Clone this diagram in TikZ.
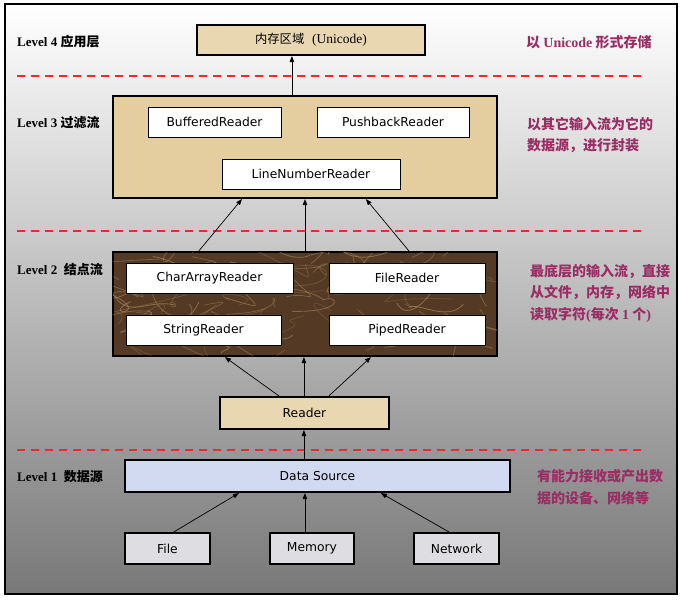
\documentclass[tikz,border=0pt]{standalone}
\usepackage{fontspec}
\setmainfont{Liberation Serif}
\newfontfamily\cjk{Noto Sans CJK SC}
\newfontfamily\uifont{DejaVu Sans}
\usetikzlibrary{arrows.meta,calc}
\definecolor{tan}{RGB}{233,215,178}
\definecolor{tandark}{RGB}{228,206,160}
\definecolor{brownm}{RGB}{84,58,36}
\definecolor{vein}{RGB}{170,135,95}
\definecolor{dsblue}{RGB}{210,218,242}
\definecolor{marblegray}{RGB}{222,222,226}
\definecolor{purp}{RGB}{153,45,100}
\definecolor{sepred}{RGB}{242,38,45}
\begin{document}
\begin{tikzpicture}[x=1pt,y=-1pt,
  outer/.style={draw=black, line width=2.2pt, inner sep=0pt},
  wbox/.style={draw=black, line width=0.8pt, fill=white, inner sep=0pt, minimum height=30pt, font=\uifont\fontsize{12.3}{14}\selectfont},
  tbox/.style={outer, font=\uifont\fontsize{12.3}{14}\selectfont},
  arr/.style={-{Triangle[length=6pt,width=4.5pt]}, line width=0.7pt},
  sepline/.style={draw=sepred, dash pattern=on 8pt off 6pt, line width=2.6pt},
  lvl/.style={anchor=west, inner sep=0pt, font=\bfseries\fontsize{13}{15}\selectfont},
  note/.style={anchor=west, inner sep=0pt, align=left, text=purp, font=\cjk\bfseries\fontsize{14}{21.5}\selectfont}]
\useasboundingbox (0,0) rectangle (682,601);
\fill[white] (0,0) rectangle (682,601);
\shade[top color=white, middle color={rgb,255:red,207;green,207;blue,207}, bottom color={rgb,255:red,120;green,120;blue,120}] (5,4) rectangle (677,594);
\draw[line width=2.2pt] (5,4) rectangle (677,594);

% separators
\draw[sepline] (17,76) -- (644,76);
\draw[sepline] (17,231) -- (644,231);
\draw[sepline] (17,450) -- (644,450);

% level 4
\node[tbox, fill=tan, minimum width=228pt, minimum height=30pt] (l4) at (311,40)
  {{\cjk 内存区域}\ \ {\rmfamily\fontsize{13.5}{15}\selectfont(Unicode)}};

% level 3
\node[outer, fill=tandark, minimum width=384pt, minimum height=102pt] (l3) at (305,147) {};
\node[wbox, minimum width=133pt] (buf) at (214.5,122) {BufferedReader};
\node[wbox, minimum width=152pt] (push) at (393,122) {PushbackReader};
\node[wbox, minimum width=178pt] (lnr) at (311,174) {LineNumberReader};

% level 2
\node[outer, fill=brownm, minimum width=384pt, minimum height=104pt] (l2) at (305,304) {};
\begin{scope}
  \clip ($(l2.north west)+(1.2,1.2)$) rectangle ($(l2.south east)+(-1.2,-1.2)$);
  \pgfmathsetseed{11}
  \foreach \i in {1,...,70}{
    \pgfmathsetmacro\xa{113+384*rnd}
    \pgfmathsetmacro\ya{252+104*rnd}
    \pgfmathsetmacro\xb{\xa+50*rand}
    \pgfmathsetmacro\yb{\ya+25*rand}
    \pgfmathsetmacro\xc{\xa+50*rand}
    \pgfmathsetmacro\yc{\ya+25*rand}
    \pgfmathsetmacro\xd{\xa+70*rand}
    \pgfmathsetmacro\yd{\ya+30*rand}
    \pgfmathsetmacro\op{0.25+0.45*rnd}
    \draw[vein, opacity=\op, line width=0.8pt] (\xa,\ya) .. controls (\xb,\yb) and (\xc,\yc) .. (\xd,\yd);
  }
\end{scope}
\node[wbox, minimum width=167pt] (car) at (209.5,278) {CharArrayReader};
\node[wbox, minimum width=156pt] (filer) at (407,278) {FileReader};
\node[wbox, minimum width=155pt] (strr) at (203.5,330) {StringReader};
\node[wbox, minimum width=156pt] (pipe) at (407,330) {PipedReader};

% reader
\node[tbox, fill=tan, minimum width=169pt, minimum height=32pt] (reader) at (304.5,413) {Reader};

% level 1
\node[tbox, fill=dsblue, minimum width=385pt, minimum height=32pt] (ds) at (317.5,476) {Data Source};
\node[tbox, fill=marblegray, minimum width=85pt, minimum height=31pt] (file) at (167.5,548.5) {File};
\node[tbox, fill=marblegray, minimum width=84pt, minimum height=31pt] (mem) at (312,548.5) {Memory};
\node[tbox, fill=marblegray, minimum width=85pt, minimum height=31pt] (net) at (456.5,548.5) {Network};

% arrows
\draw[arr] ($(l3.north west)+(180,0)$) -- ($(l4.south west)+(96,0)$);
\draw[arr] ($(l2.north west)+(87,0)$) -- ($(l3.south west)+(130,0)$);
\draw[arr] (l2.north) -- (l3.south);
\draw[arr] ($(l2.north west)+(297,0)$) -- ($(l3.south west)+(254,0)$);
\draw[arr] ($(reader.north west)+(60,0)$) -- ($(l2.south west)+(113,0)$);
\draw[arr] ($(reader.north west)+(85,0)$) -- ($(l2.south west)+(192,0)$);
\draw[arr] ($(reader.north west)+(110,0)$) -- ($(l2.south west)+(259,0)$);
\draw[arr] ($(ds.north west)+(180,0)$) -- ($(reader.south west)+(85,0)$);
\draw[arr] ($(file.north west)+(50,0)$) -- ($(ds.south west)+(115,0)$);
\draw[arr] ($(mem.north west)+(36,0)$) -- ($(ds.south west)+(181,0)$);
\draw[arr] ($(net.north west)+(36,0)$) -- ($(ds.south west)+(257,0)$);

% level labels
\node[lvl] (t4) at (17,42) {Level 4 {\cjk 应用层}};
\node[lvl] (t3) at (17,123) {Level 3 {\cjk 过滤流}};
\node[lvl] (t2) at (17,270) {Level 2\ \ {\cjk 结点流}};
\node[lvl] (t1) at (17,477) {Level 1\ \ {\cjk 数据源}};

% notes
\node[note] (n4) at (526,42) {以 {\rmfamily Unicode} 形式存储};
\node[note] (n3) at (527,135) {以其它输入流为它的\\ 数据源，进行封装};
\node[note] (n2) at (530,293) {最底层的输入流，直接\\从文件，内存，网络中\\读取字符{\rmfamily(}每次 {\rmfamily 1} 个{\rmfamily)}};
\node[note] (n1) at (537,487) {有能力接收或产出数\\据的设备、网络等};
\end{tikzpicture}
\end{document}
